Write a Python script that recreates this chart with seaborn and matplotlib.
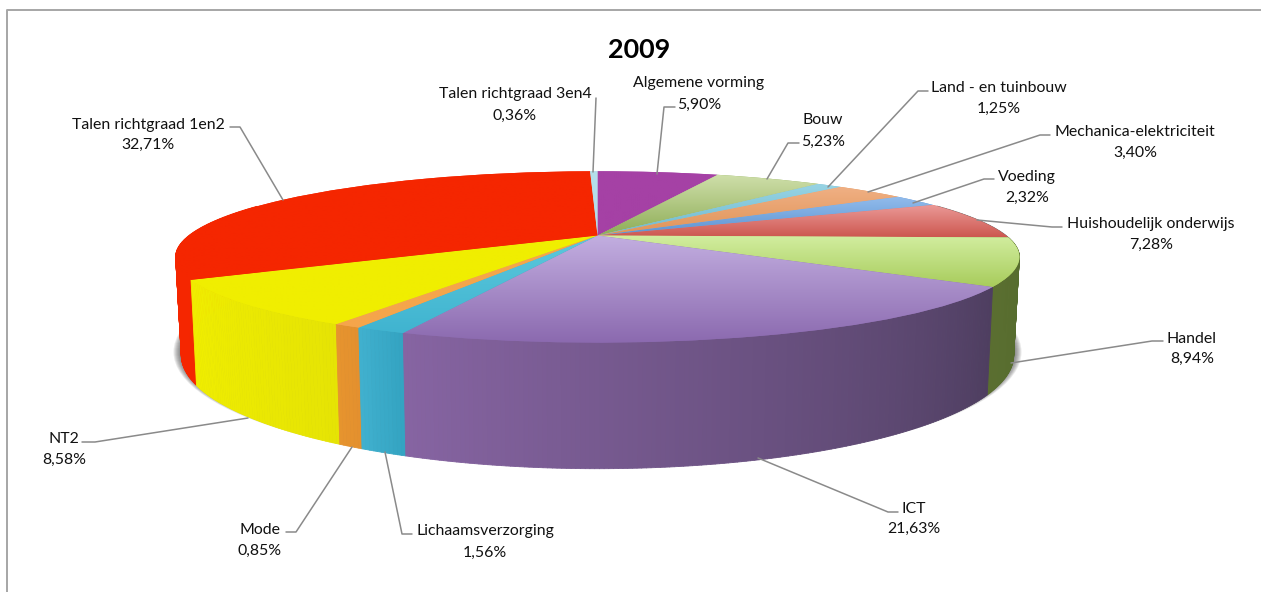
import matplotlib
matplotlib.use("Agg")
import matplotlib.pyplot as plt
import numpy as np
import seaborn as sns
from matplotlib.collections import PolyCollection
from matplotlib.patches import Ellipse
from matplotlib.transforms import Transform

# Slices in drawing order, clockwise from 12 o'clock
categories = [
    "Algemene vorming", "Bouw", "Land - en tuinbouw", "Mechanica-elektriciteit",
    "Voeding", "Huishoudelijk onderwijs", "Handel", "ICT", "Lichaamsverzorging",
    "Mode", "NT2", "Talen richtgraad 1en2", "Talen richtgraad 3en4",
]
shares = [5.90, 5.23, 1.25, 3.40, 2.32, 7.28, 8.94, 21.63, 1.56, 0.85, 8.58, 32.71, 0.36]

# Top face colours, back of the slice to front of the slice
top_back = ["#a541a5", "#cfdfaa", "#98d4e4", "#f0b084", "#92bcec", "#ec9a98", "#d2eea0",
            "#c2aee0", "#5cc8dc", "#f5a54b", "#f0ee00", "#f52600", "#b4deea"]
top_front = ["#a541a5", "#8fae58", "#70bad0", "#e09458", "#5e94d2", "#cc5850", "#a8cc5c",
             "#8a68ae", "#40b4d0", "#f5a54b", "#f0ee00", "#f52600", "#b4deea"]
# Side wall colours, right end to left end on screen
wall_right = ["#777777", "#777777", "#777777", "#777777", "#777777", "#777777", "#556c2e",
              "#4e3e60", "#34a4c2", "#e4902e", "#e6e404", "#f52600", "#f52600"]
wall_left = ["#777777", "#777777", "#777777", "#777777", "#777777", "#777777", "#5a6e30",
             "#8664a2", "#40b0ce", "#e6942e", "#f0ee00", "#f52600", "#f52600"]

# Label placement in pixels: centre x, name line y, value line y
label_x = [699, 823, 999, 1135, 1027, 1151, 1192, 914, 485, 260, 64, 148, 515]
label_y1 = [83, 120, 88, 132, 177, 224, 339, 509, 531, 530, 439, 125, 94]
label_y2 = [105, 142, 109, 153, 198, 245, 359, 529, 553, 551, 460, 145, 116]
leaders = [
    [(675, 107), (664, 107), (657, 174)],
    [(799, 143), (788, 143), (767, 179)],
    [(928, 91), (918, 91), (828, 187)],
    [(1050, 135), (1040, 135), (868, 192)],
    [(994, 179), (984, 179), (913, 203)],
    [(1062, 227), (1052, 227), (977, 220)],
    [(1163, 341), (1152, 341), (1011, 363)],
    [(898, 512), (888, 512), (758, 458)],
    [(412, 534), (402, 534), (385, 452)],
    [(286, 532), (296, 532), (352, 447)],
    [(82, 442), (95, 442), (248, 418)],
    [(230, 127), (240, 127), (283, 200)],
    [(596, 98), (593, 172)],
]


class DiskProjection(Transform):
    # Perspective view of the unit disk, output in pixels
    input_dims = 2
    output_dims = 2

    def __init__(self, width, height, y0, cx=597.5, k=0.25):
        super().__init__()
        self.width, self.height, self.y0, self.cx, self.k = width, height, y0, cx, k

    def transform_non_affine(self, values):
        values = np.asarray(values)
        w = 1 + self.k * values[:, 1]
        return np.column_stack(
            (self.cx + self.width * values[:, 0] / w, self.y0 - self.height * values[:, 1] / w)
        )


if __name__ == "__main__":

    sns.set_theme(style="white")
    plt.rcParams["font.family"] = ["Lato", "DejaVu Sans"]

    fig = plt.figure(figsize=(12.61, 5.92), dpi=100)
    ax = fig.add_axes([0, 0, 1, 1])

    top = DiskProjection(408.5, 80.3, 235.5)
    bottom = DiskProjection(403, 106.5, 326.7)

    wedges, _ = ax.pie(shares, startangle=90, counterclock=False, colors=top_front,
                       wedgeprops=dict(linewidth=0, edgecolor="none"))
    ax.set_aspect("auto")

    # Soft shadow under the disk
    for grow in range(1, 9):
        ax.add_patch(Ellipse((597.5, 352), 2 * (416 + grow), 2 * (114 + grow * 0.3),
                             facecolor="#303030", edgecolor="none", linewidth=0,
                             alpha=0.1, zorder=1))

    # Side wall: thin quads between both disks, back to front
    quads, quad_colors, quad_depth = [], [], []
    for i, wedge in enumerate(wedges):
        steps = max(2, int(abs(wedge.theta2 - wedge.theta1) * 2))
        angles = np.radians(np.linspace(wedge.theta1, wedge.theta2, steps + 1))
        unit = np.column_stack((np.cos(angles), np.sin(angles)))
        upper, lower = top.transform(unit), bottom.transform(unit)
        shades = sns.blend_palette([wall_left[i], wall_right[i]], n_colors=steps)
        order = np.argsort(upper[:-1, 0] + upper[1:, 0])
        ranks = np.empty(steps, dtype=int)
        ranks[order] = np.arange(steps)
        for j in range(steps):
            if unit[j, 1] > 0.4:
                continue
            quads.append([upper[j], upper[j + 1], lower[j + 1], lower[j]])
            quad_colors.append(shades[ranks[j]])
            quad_depth.append(unit[j, 1] + unit[j + 1, 1])
    back_to_front = np.argsort(quad_depth)[::-1]
    ax.add_collection(PolyCollection(
        [quads[j] for j in back_to_front],
        facecolors=[quad_colors[j] for j in back_to_front],
        edgecolors=[quad_colors[j] for j in back_to_front],
        linewidths=0.6, zorder=2,
    ))

    # Top face: pie wedges through the projection, each with a vertical gradient
    for i, wedge in enumerate(wedges):
        wedge.set_transform(top + ax.transData)
        wedge.set_zorder(3)
        verts = top.transform(wedge.get_path().vertices)
        shade = np.array(sns.blend_palette([top_back[i], top_front[i]], n_colors=64))
        image = ax.imshow(
            shade[:, None, :],
            extent=(verts[:, 0].min(), verts[:, 0].max(), verts[:, 1].max(), verts[:, 1].min()),
            aspect="auto", interpolation="bilinear", zorder=4,
        )
        image.set_clip_path(wedge)

    for leader in leaders:
        xs, ys = zip(*leader)
        sns.lineplot(x=list(xs), y=list(ys), ax=ax, color="#8a8a8a", linewidth=1.1,
                     sort=False, estimator=None, zorder=5)

    for name, share, x, y1, y2 in zip(categories, shares, label_x, label_y1, label_y2):
        value = f"{share:.2f}%".replace(".", ",")
        ax.text(x, y1, name, ha="center", va="center", fontsize=11.4, color="#111111", zorder=6)
        ax.text(x, y2, value, ha="center", va="center", fontsize=11.4, color="#111111", zorder=6)

    ax.text(639, 50, "2009", ha="center", va="center", fontsize=19.4, fontweight="bold",
            color="black")

    # Chart border: only the left and top edges fall inside the picture
    sns.lineplot(x=[7, 7, 1261], y=[592, 10, 10], ax=ax, color="#a6a6a6", linewidth=1.4,
                 sort=False, estimator=None)

    ax.set_xlim(0, 1261)
    ax.set_ylim(592, 0)
    ax.axis("off")

    fig.savefig("out.png", dpi=100)
